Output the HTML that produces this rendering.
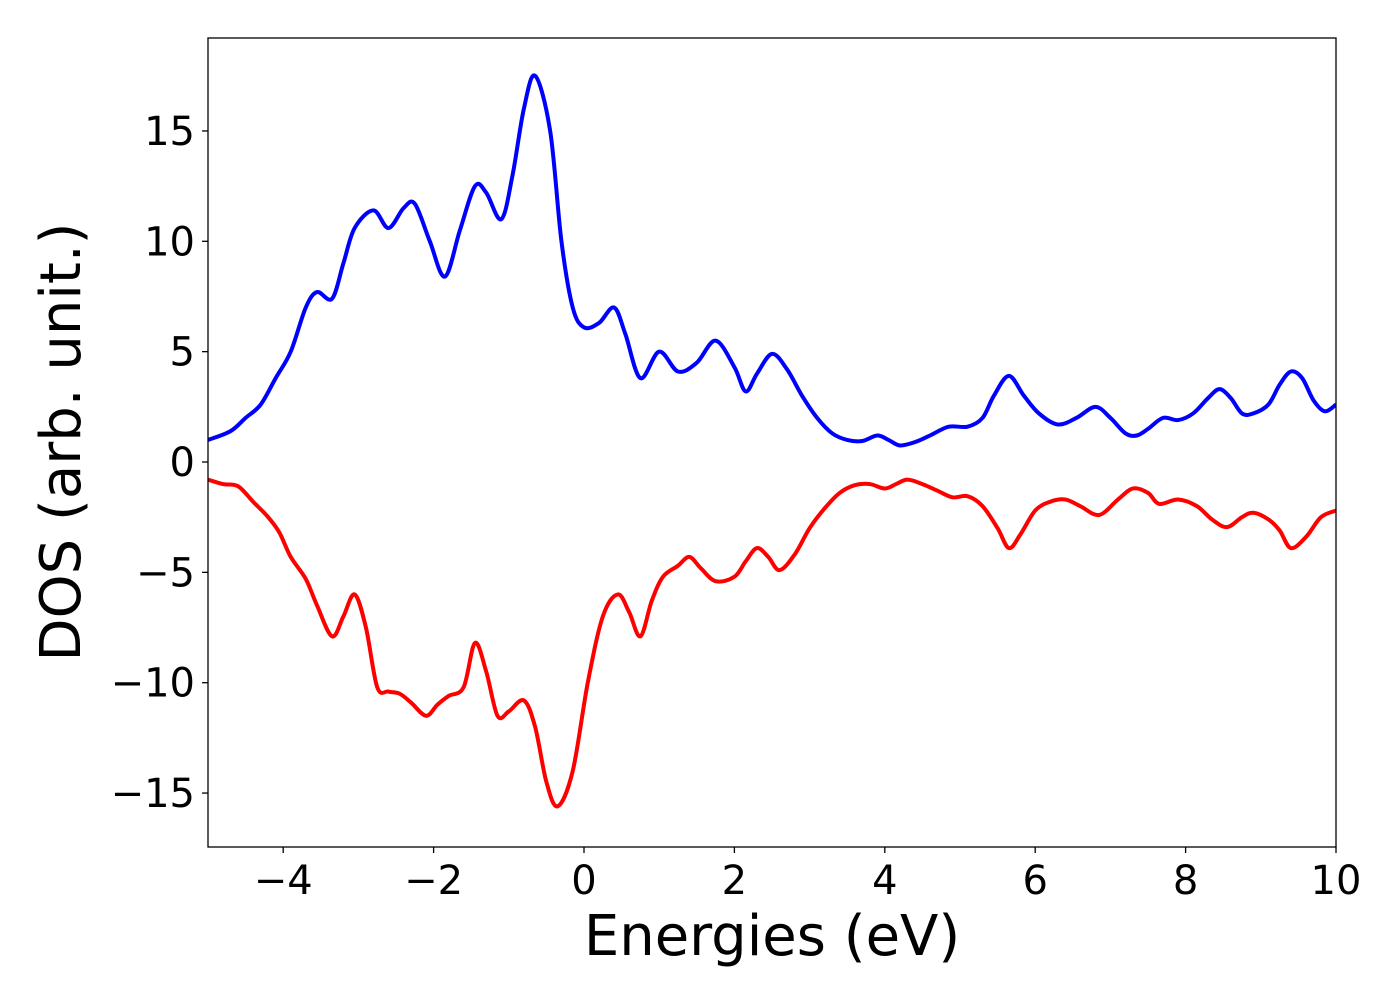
<!DOCTYPE html>
<html><head><meta charset="utf-8"><style>
body{margin:0;background:#fff}
svg text{font-family:"DejaVu Sans","Liberation Sans",sans-serif;fill:#000}
</style></head><body>
<svg id="chart" width="1400" height="1000" xmlns="http://www.w3.org/2000/svg">
<g id="plot"></g>
</svg>
<script>
const upX=[-5,-4.7,-4.5,-4.3,-4.1,-3.9,-3.7,-3.55,-3.35,-3.2,-3.05,-2.8,-2.6,-2.4,-2.25,-2.05,-1.85,-1.65,-1.45,-1.3,-1.1,-0.95,-0.8,-0.65,-0.45,-0.3,-0.15,0,0.2,0.4,0.55,0.75,1.0,1.25,1.5,1.75,2.0,2.15,2.3,2.5,2.7,2.9,3.1,3.3,3.5,3.7,3.9,4.05,4.2,4.4,4.6,4.85,5.1,5.3,5.45,5.65,5.85,6.05,6.3,6.55,6.8,7.0,7.2,7.35,7.5,7.7,7.9,8.1,8.3,8.45,8.6,8.75,8.9,9.1,9.25,9.4,9.55,9.7,9.85,10];
const upY=[1.0,1.4,2.0,2.6,3.8,5.0,7.0,7.7,7.4,9.0,10.6,11.4,10.6,11.5,11.7,10.0,8.4,10.5,12.5,12.2,11.0,13,16,17.5,15,10,7.0,6.1,6.3,7.0,5.8,3.8,5.0,4.1,4.5,5.5,4.3,3.2,4.0,4.9,4.2,3.0,2.0,1.3,1.0,0.95,1.2,1.0,0.75,0.9,1.2,1.6,1.6,2.0,3.0,3.9,3.0,2.2,1.7,2.0,2.5,2.0,1.3,1.2,1.5,2.0,1.9,2.2,2.9,3.3,2.9,2.2,2.2,2.6,3.5,4.1,3.8,2.8,2.3,2.6];
const dnX=[-5,-4.8,-4.6,-4.4,-4.2,-4.05,-3.9,-3.7,-3.55,-3.35,-3.2,-3.05,-2.9,-2.75,-2.6,-2.45,-2.3,-2.1,-1.95,-1.8,-1.6,-1.45,-1.3,-1.15,-1.0,-0.8,-0.65,-0.5,-0.35,-0.15,0.05,0.25,0.45,0.6,0.75,0.9,1.05,1.25,1.4,1.55,1.75,2.0,2.15,2.3,2.45,2.6,2.8,3.0,3.2,3.4,3.6,3.8,4.0,4.15,4.3,4.5,4.7,4.9,5.1,5.3,5.5,5.65,5.8,6.0,6.2,6.4,6.6,6.85,7.1,7.3,7.5,7.65,7.9,8.15,8.35,8.55,8.75,8.9,9.1,9.25,9.4,9.6,9.8,10];
const dnY=[-0.8,-1.0,-1.1,-1.8,-2.5,-3.2,-4.3,-5.3,-6.5,-7.9,-7.0,-6.0,-7.5,-10.2,-10.4,-10.5,-10.9,-11.5,-11.0,-10.6,-10.2,-8.2,-9.5,-11.5,-11.3,-10.8,-12,-14.5,-15.6,-14,-10,-7,-6.0,-6.8,-7.9,-6.3,-5.2,-4.7,-4.3,-4.8,-5.4,-5.2,-4.5,-3.9,-4.3,-4.9,-4.2,-3.0,-2.1,-1.4,-1.05,-1.0,-1.2,-1.0,-0.8,-1.0,-1.3,-1.6,-1.55,-2.0,-3.0,-3.9,-3.3,-2.2,-1.8,-1.7,-2.0,-2.4,-1.7,-1.2,-1.4,-1.9,-1.7,-2.0,-2.6,-2.95,-2.5,-2.3,-2.6,-3.1,-3.9,-3.4,-2.5,-2.2];
const xTicks=[-4,-2,0,2,4,6,8,10];
const yTicks=[-15,-10,-5,0,5,10,15];
const xTickLabels=["\u22124","\u22122","0","2","4","6","8","10"];
const yTickLabels=["\u221215","\u221210","\u22125","0","5","10","15"];

const L=208,R=1336,T=38,B=847;
const xs=v=>L+(v+5)*(R-L)/15;
const ys=v=>462-v*22.07;
const NS="http://www.w3.org/2000/svg";
const g=document.getElementById('plot');
function mk(tag,attrs){const e=document.createElementNS(NS,tag);for(const k in attrs)e.setAttribute(k,attrs[k]);g.appendChild(e);return e;}
function pathFor(X,Y){
  const p=X.map((x,i)=>[xs(x),ys(Y[i])]);
  let d="M"+p[0][0]+","+p[0][1];
  for(let i=0;i<p.length-1;i++){
    const p0=p[Math.max(0,i-1)],p1=p[i],p2=p[i+1],p3=p[Math.min(p.length-1,i+2)];
    const c1x=p1[0]+(p2[0]-p0[0])/6,c1y=p1[1]+(p2[1]-p0[1])/6;
    const c2x=p2[0]-(p3[0]-p1[0])/6,c2y=p2[1]-(p3[1]-p1[1])/6;
    d+=` C${c1x},${c1y} ${c2x},${c2y} ${p2[0]},${p2[1]}`;
  }
  return d;
}
const defs=mk('clipPath',{id:'clip'});
const cr=document.createElementNS(NS,'rect');
cr.setAttribute('x',L);cr.setAttribute('y',T);cr.setAttribute('width',R-L);cr.setAttribute('height',B-T);
defs.appendChild(cr);
const up=mk('path',{d:pathFor(upX,upY),fill:'none',stroke:'#0000ff','stroke-width':4,'clip-path':'url(#clip)'});


const dn=mk('path',{d:pathFor(dnX,dnY),fill:'none',stroke:'#ff0000','stroke-width':4,'clip-path':'url(#clip)'});


const fr=mk('rect',{x:L,y:T,width:R-L,height:B-T,fill:'none',stroke:'#000','stroke-width':1.3});


xTicks.forEach((v,i)=>{
  const t=mk('line',{x1:xs(v),x2:xs(v),y1:B,y2:B+6,stroke:'#000','stroke-width':1.3});
  
  
  const tx=mk('text',{x:xs(v),y:894,'text-anchor':'middle','font-size':40});
  tx.textContent=xTickLabels[i];
  
  
});
yTicks.forEach((v,i)=>{
  const t=mk('line',{x1:L-6,x2:L,y1:ys(v),y2:ys(v),stroke:'#000','stroke-width':1.3});
  
  
  const tx=mk('text',{x:L-13,y:ys(v)+14,'text-anchor':'end','font-size':40});
  tx.textContent=yTickLabels[i];
  
  
});
const xl=mk('text',{x:772,y:955,'text-anchor':'middle','font-size':56});
xl.textContent="Energies (eV)";


const yl=mk('text',{x:0,y:0,'text-anchor':'middle','font-size':56,transform:'translate(80,442) rotate(-90)'});
yl.textContent="DOS (arb. unit.)";


</script>
</body></html>
